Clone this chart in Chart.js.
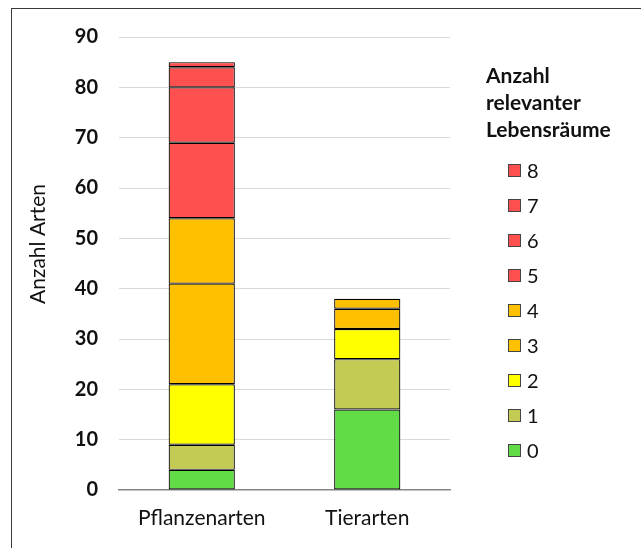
<!DOCTYPE html>
<html lang="de">
<head>
<meta charset="UTF-8">
<title>Anzahl Arten nach Lebensräumen</title>
<script src="https://cdn.jsdelivr.net/npm/chart.js"></script>
<style>
  html, body { margin: 0; padding: 0; background: #fff; }
  #chart { display: block; }
</style>
</head>
<body>
<canvas id="chart" width="641" height="548"></canvas>
<script>
  // Kategorien und Werte
  const categories = ['Pflanzenarten', 'Tierarten'];
  const habitatLabels = ['0', '1', '2', '3', '4', '5', '6', '7', '8'];
  const plantCounts = [4, 5, 12, 20, 13, 15, 11, 4, 1];
  const animalCounts = [16, 10, 6, 4, 2, 0, 0, 0, 0];
  const yTicks = [0, 10, 20, 30, 40, 50, 60, 70, 80, 90];

  // Farben je Anzahl Lebensräume
  const palette = ['#62DC46', '#C4CB55', '#FFFF00', '#FFC000', '#FFC000',
                   '#FF5050', '#FF5050', '#FF5050', '#FF5050'];

  const FONT = 'Lato, "Open Sans", sans-serif';

  const datasets = habitatLabels.map((lab, i) => ({
    label: lab,
    data: [plantCounts[i], animalCounts[i]],
    backgroundColor: palette[i],
    borderColor: '#000',
    borderWidth: 1.2,
    borderSkipped: false,
    barPercentage: 0.4,
    categoryPercentage: 1
  }));

  // Rahmen, Achsentitel und Legende
  const extras = {
    id: 'extras',
    afterDraw(chart) {
      const ctx = chart.ctx;
      ctx.save();

      ctx.strokeStyle = '#3a3a3a';
      ctx.lineWidth = 1;
      ctx.strokeRect(11.5, 8.5, 700, 700);

      ctx.fillStyle = '#111';
      ctx.font = '21px ' + FONT;
      ctx.textAlign = 'center';
      ctx.textBaseline = 'middle';
      ctx.translate(38, 244);
      ctx.rotate(-Math.PI / 2);
      ctx.fillText('Anzahl Arten', 0, 0);
      ctx.restore();

      ctx.save();
      ctx.fillStyle = '#111';
      ctx.font = 'bold 21px ' + FONT;
      ctx.textAlign = 'left';
      ctx.textBaseline = 'middle';
      ['Anzahl', 'relevanter', 'Lebensräume'].forEach((t, k) => {
        ctx.fillText(t, 486, 76 + k * 27);
      });

      ctx.font = '20px ' + FONT;
      const ds = chart.data.datasets;
      for (let j = ds.length - 1; j >= 0; j--) {
        const y = 171 + (ds.length - 1 - j) * 35;
        ctx.fillStyle = ds[j].backgroundColor;
        ctx.fillRect(508.5, y - 6.5, 12, 12);
        ctx.strokeStyle = '#444';
        ctx.strokeRect(508.5, y - 6.5, 12, 12);
        ctx.fillStyle = '#111';
        ctx.fillText(ds[j].label, 527, y + 1);
      }
      ctx.restore();
    }
  };

  new Chart(document.getElementById('chart'), {
    type: 'bar',
    data: { labels: categories, datasets: datasets },
    options: {
      responsive: false,
      animation: false,
      layout: { padding: { left: 11, right: 191, top: 37, bottom: 0 } },
      plugins: {
        legend: { display: false },
        tooltip: { enabled: false }
      },
      scales: {
        x: {
          stacked: true,
          afterFit(scale) { scale.height = 58; },
          grid: { display: false, drawTicks: false },
          border: { color: '#868686', width: 1.5 },
          ticks: { color: '#111', padding: 16, font: { family: FONT, size: 21 } }
        },
        y: {
          stacked: true,
          min: 0,
          max: 90,
          afterFit(scale) { scale.width = 108; },
          afterBuildTicks(scale) { scale.ticks = yTicks.map(v => ({ value: v })); },
          grid: {
            drawTicks: false,
            color: ctx => ctx.tick && ctx.tick.value === 0 ? 'rgba(0,0,0,0)' : '#d9d9d9'
          },
          border: { display: false },
          ticks: { color: '#111', padding: 21, font: { family: FONT, size: 20, weight: 'bold' } }
        }
      }
    },
    plugins: [extras]
  });
</script>
</body>
</html>
